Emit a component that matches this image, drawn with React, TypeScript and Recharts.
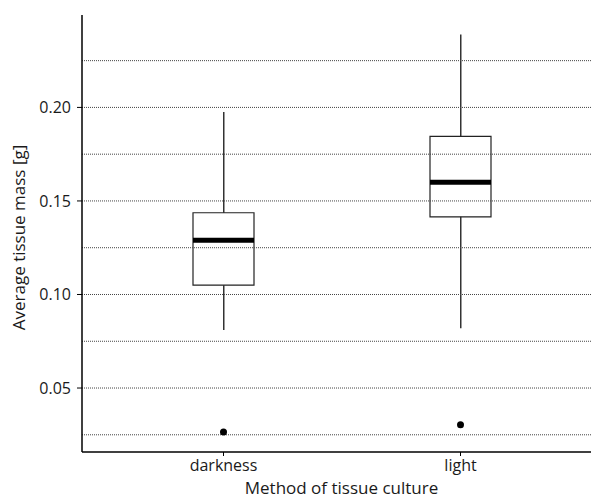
import React from "react";
import {
  ComposedChart,
  Bar,
  Scatter,
  XAxis,
  YAxis,
  ReferenceLine,
} from "recharts";

// box plot stats
const CATEGORIES = ["darkness", "light"];
const WHISKER_LOW = [0.081, 0.082];
const Q1 = [0.105, 0.1415];
const MEDIAN = [0.129, 0.16];
const Q3 = [0.1437, 0.1845];
const WHISKER_HIGH = [0.1976, 0.239];
const OUTLIERS = [0.0265, 0.0304];

const Y_TICKS = [0.05, 0.1, 0.15, 0.2];
const GRID_LINES = [0.025, 0.05, 0.075, 0.1, 0.125, 0.15, 0.175, 0.2, 0.225];
const Y_DOMAIN = [0.0158, 0.2494];

const data = CATEGORIES.map((name, i) => ({
  name,
  whisker: [WHISKER_LOW[i], WHISKER_HIGH[i]],
  box: [Q1[i], Q3[i]],
  median: MEDIAN[i],
  outlier: OUTLIERS[i],
}));

const FONT = "'Open Sans', sans-serif";
const BOX_W = 61;
const X_PADDING = { left: 23, right: 12 };

const MedianLine = (props: any) => {
  const { cx, cy } = props;
  return (
    <line
      x1={cx - BOX_W / 2}
      x2={cx + BOX_W / 2}
      y1={cy}
      y2={cy}
      stroke="#000"
      strokeWidth={5}
    />
  );
};

const OutlierDot = (props: any) => {
  const { cx, cy } = props;
  return <circle cx={cx} cy={cy} r={3.5} fill="#000" />;
};

const YLabel = (props: any) => {
  const { viewBox } = props;
  const cy = viewBox.y + viewBox.height / 2 + 4;
  return (
    <text
      x={25}
      y={cy}
      transform={`rotate(-90, 25, ${cy})`}
      textAnchor="middle"
      fontFamily={FONT}
      fontSize={17}
      fill="#1a1a1a"
    >
      Average tissue mass [g]
    </text>
  );
};

const XLabel = (props: any) => {
  const { viewBox } = props;
  return (
    <text
      x={viewBox.x + viewBox.width / 2 + 5}
      y={494}
      textAnchor="middle"
      fontFamily={FONT}
      fontSize={17}
      fill="#1a1a1a"
    >
      Method of tissue culture
    </text>
  );
};

export default function App() {
  return (
    <div
      style={{
        position: "absolute",
        left: 0,
        top: 0,
        width: 591,
        height: 498,
        overflow: "hidden",
        background: "#fff",
      }}
    >
      <ComposedChart
        width={591}
        height={498}
        data={data}
        margin={{ top: 15, right: 0, bottom: 0, left: 0 }}
      >
        <XAxis
          dataKey="name"
          xAxisId="bottom"
          padding={X_PADDING}
          axisLine={{ stroke: "#000", strokeWidth: 1.5 }}
          tickLine={{ stroke: "#000" }}
          tickSize={4}
          tickMargin={4}
          tick={{ fill: "#1a1a1a", fontSize: 16, fontFamily: FONT }}
          height={46}
          label={<XLabel />}
        />
        <XAxis
          dataKey="name"
          xAxisId="top"
          orientation="top"
          padding={X_PADDING}
          axisLine={{ stroke: "#000", strokeWidth: 1.5 }}
          tick={false}
          tickLine={false}
          height={0}
        />
        <YAxis
          type="number"
          domain={Y_DOMAIN}
          allowDataOverflow
          ticks={Y_TICKS}
          tickFormatter={(v: number) => v.toFixed(2)}
          width={82}
          axisLine={{ stroke: "#000", strokeWidth: 1.5 }}
          tickLine={{ stroke: "#000" }}
          tickSize={5}
          tickMargin={6}
          tick={{ fill: "#1a1a1a", fontSize: 16, fontFamily: FONT }}
          label={<YLabel />}
        />
        <Bar
          dataKey="whisker"
          xAxisId="top"
          barSize={1.5}
          fill="#333"
          isAnimationActive={false}
        />
        <Bar
          dataKey="box"
          xAxisId="bottom"
          barSize={BOX_W}
          fill="#fff"
          stroke="#222"
          strokeWidth={1.2}
          isAnimationActive={false}
        />
        {GRID_LINES.map((v) => (
          <ReferenceLine
            key={v}
            y={v}
            xAxisId="bottom"
            stroke="#444"
            strokeDasharray="1 1"
            ifOverflow="extendDomain"
          />
        ))}
        <Scatter
          dataKey="median"
          xAxisId="bottom"
          shape={<MedianLine />}
          isAnimationActive={false}
        />
        <Scatter
          dataKey="outlier"
          xAxisId="bottom"
          shape={<OutlierDot />}
          isAnimationActive={false}
        />
      </ComposedChart>
    </div>
  );
}
